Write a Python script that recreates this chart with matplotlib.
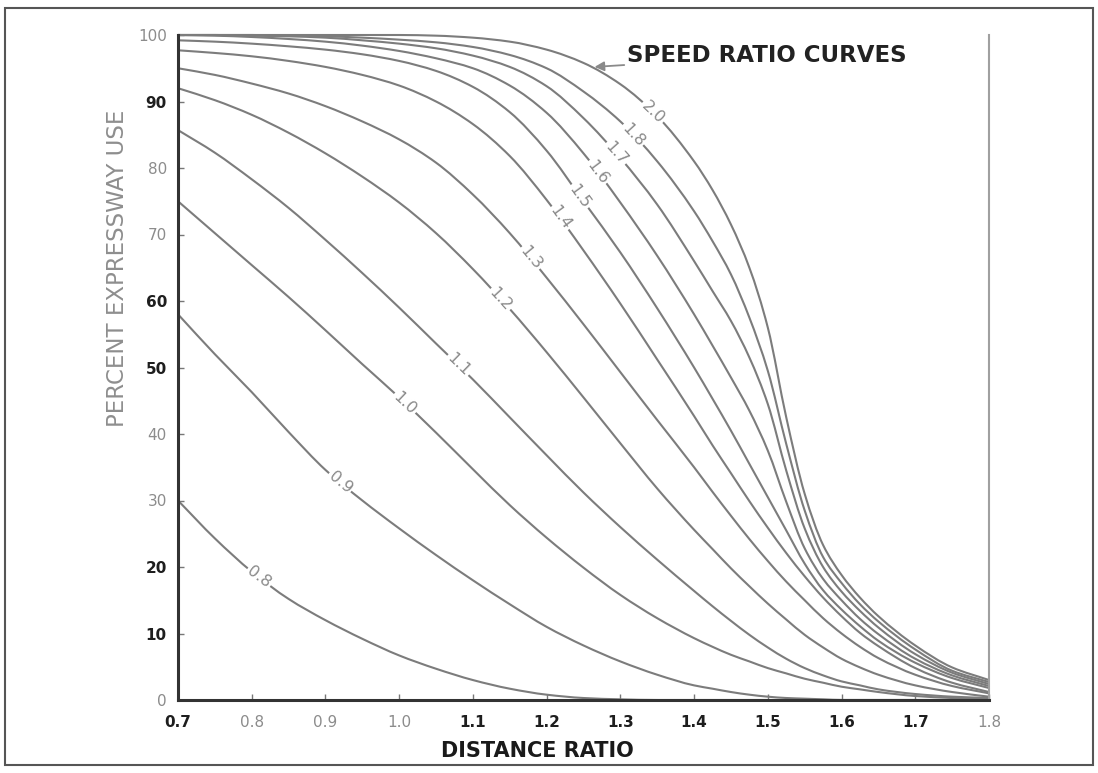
import numpy as np
import matplotlib
matplotlib.use("Agg")
import matplotlib.pyplot as plt
from matplotlib.patches import Rectangle, PathPatch
from matplotlib.path import Path

# ---------------- data ----------------
distance_ratio = [0.70, 0.75, 0.80, 0.85, 0.90, 0.95, 1.00, 1.05, 1.10, 1.15,
                  1.20, 1.25, 1.30, 1.35, 1.40, 1.425, 1.45, 1.475, 1.50, 1.525,
                  1.55, 1.575, 1.60, 1.625, 1.65, 1.70, 1.75, 1.80]

use_0_8 = [30, 24.3, 19.3, 15.2, 12.0, 9.2, 6.7, 4.7, 3.0, 1.7,
           0.8, 0.3, 0.1, 0, 0, 0, 0, 0, 0, 0,
           0, 0, 0, 0, 0, 0, 0, 0]
use_0_9 = [58, 52, 46.3, 40.3, 34.6, 30.0, 25.8, 21.8, 18.0, 14.4,
           11.0, 8.2, 5.8, 3.8, 2.2, 1.7, 1.2, 0.8, 0.5, 0.3,
           0.2, 0.1, 0, 0, 0, 0, 0, 0]
use_1_0 = [75, 70.2, 65.4, 60.6, 55.6, 50.5, 45.5, 40.2, 34.7, 29.3,
           24.4, 19.9, 15.8, 12.3, 9.3, 8.0, 6.8, 5.8, 4.8, 4.0,
           3.2, 2.6, 2.0, 1.6, 1.2, 0.6, 0.3, 0.1]
use_1_1 = [85.7, 82.3, 78.3, 74, 69.2, 64.2, 59, 53.6, 48.2, 42.5,
           36.8, 31.2, 26, 21.1, 16.4, 14.1, 11.9, 9.8, 7.9, 6.2,
           4.8, 3.7, 2.8, 2.2, 1.6, 0.9, 0.5, 0.3]
use_1_2 = [92, 90.2, 88, 85.3, 82.2, 78.7, 74.8, 70.2, 64.8, 58.8,
           52.3, 45.5, 38.6, 31.8, 25.6, 22.7, 19.8, 17.1, 14.5, 12.1,
           9.8, 7.9, 6.2, 4.9, 3.8, 2.2, 1.2, 0.5]
use_1_3 = [95, 94, 92.7, 91.2, 89.3, 87, 84.3, 80.8, 76.0, 70.2,
           63.5, 56.5, 49.3, 42.1, 35, 31.3, 27.7, 24.2, 20.9, 17.8,
           15, 12.3, 10, 8, 6.3, 3.8, 2.1, 1.0]
use_1_4 = [97.7, 97.3, 96.8, 96.1, 95.2, 94, 92.4, 90.0, 86.6, 81.8,
           75.2, 67.6, 59.6, 51.2, 42.7, 38.3, 34.1, 29.9, 25.9, 22.1,
           18.6, 15.4, 12.6, 10.1, 8.1, 4.8, 2.6, 1.2]
use_1_5 = [99.2, 99.0, 98.7, 98.3, 97.8, 97.1, 96.1, 94.6, 92.2, 88.4,
           82.6, 75.0, 67.3, 58.9, 50, 45.3, 40.5, 35.5, 30.5, 25.5,
           20.5, 16.5, 13.6, 11.1, 8.9, 5.6, 3.3, 1.8]
use_1_6 = [100, 99.9, 99.7, 99.4, 99, 98.4, 97.6, 96.5, 95, 92.4,
           88.3, 82.2, 74.8, 66.8, 58, 53.3, 48.5, 43.5, 37.5, 29.8,
           22.8, 18.2, 15, 12.2, 9.9, 6.2, 3.7, 2.1]
use_1_7 = [100, 100, 99.9, 99.8, 99.6, 99.2, 98.7, 98, 96.9, 95.2,
           92.3, 87.5, 81.5, 74.5, 66, 61.5, 57, 51.5, 44.5, 34.5,
           25.8, 20, 16.3, 13.4, 10.9, 6.9, 4.1, 2.4]
use_1_8 = [100, 100, 100, 99.9, 99.8, 99.6, 99.3, 98.9, 98.2, 97,
           95, 91.5, 87, 81, 73.5, 69, 64, 57.5, 49.5, 38.5,
           28.5, 21.5, 17.6, 14.4, 11.8, 7.6, 4.4, 2.7]
use_2_0 = [100, 100, 100, 100, 100, 100, 100, 99.9, 99.6, 99,
           97.8, 95.8, 92.6, 87.8, 81, 76.7, 71.5, 65, 56, 42.5,
           31, 23.3, 18.8, 15.4, 12.6, 8.2, 4.9, 3.0]

speed_labels = ["0.8", "0.9", "1.0", "1.1", "1.2", "1.3",
                "1.4", "1.5", "1.6", "1.7", "1.8", "2.0"]
# distance ratio at which each curve carries its inline label
label_x = [0.81, 0.92, 1.008, 1.08, 1.1375, 1.178,
           1.218, 1.245, 1.269, 1.294, 1.317, 1.344]

x_ticks = [0.7, 0.8, 0.9, 1.0, 1.1, 1.2, 1.3, 1.4, 1.5, 1.6, 1.7, 1.8]
x_ticklabels = ["0.7", "0.8", "0.9", "1.0", "1.1", "1.2", "1.3", "1.4", "1.5", "1.6", "1.7", "1.8"]
y_ticks = [0, 10, 20, 30, 40, 50, 60, 70, 80, 90, 100]
y_ticklabels = ["0", "10", "20", "30", "40", "50", "60", "70", "80", "90", "100"]

curves = [use_0_8, use_0_9, use_1_0, use_1_1, use_1_2, use_1_3,
          use_1_4, use_1_5, use_1_6, use_1_7, use_1_8, use_2_0]


def smooth_path(xs, ys):
    """Smooth (monotone cubic Bezier) path running through the read points."""
    x = np.asarray(xs, float)
    y = np.asarray(ys, float)
    h = np.diff(x)
    d = np.diff(y) / h
    m = np.zeros_like(y)
    m[0], m[-1] = d[0], d[-1]
    for i in range(1, len(x) - 1):
        if d[i - 1] * d[i] <= 0:
            m[i] = 0.0
        else:
            w1 = 2 * h[i] + h[i - 1]
            w2 = h[i] + 2 * h[i - 1]
            m[i] = (w1 + w2) / (w1 / d[i - 1] + w2 / d[i])
    verts = [(x[0], y[0])]
    codes = [Path.MOVETO]
    for i in range(len(x) - 1):
        verts += [(x[i] + h[i] / 3, y[i] + m[i] * h[i] / 3),
                  (x[i + 1] - h[i] / 3, y[i + 1] - m[i + 1] * h[i] / 3),
                  (x[i + 1], y[i + 1])]
        codes += [Path.CURVE4] * 3
    return Path(verts, codes)


# ---------------- figure ----------------
plt.rcParams['font.family'] = ['DejaVu Sans']
W, H = 1098, 773
fig = plt.figure(figsize=(W / 100, H / 100), dpi=100)
fig.patch.set_facecolor('white')
ax = fig.add_axes([178 / W, 1 - 700 / H, 811 / W, 665 / H])
ax.set_xlim(0.7, 1.8)
ax.set_ylim(0, 100)

curve_color = '#7c7c7c'
for ys in curves:
    ax.add_patch(PathPatch(smooth_path(distance_ratio, ys), fill=False,
                           edgecolor=curve_color, lw=1.5, clip_on=False,
                           capstyle='round', zorder=2))

# inline labels
fig.canvas.draw()
for lab, lx, ys in zip(speed_labels, label_x, curves):
    ly = np.interp(lx, distance_ratio, ys)
    dx = 0.012
    p1 = ax.transData.transform((lx - dx, np.interp(lx - dx, distance_ratio, ys)))
    p2 = ax.transData.transform((lx + dx, np.interp(lx + dx, distance_ratio, ys)))
    ang = np.degrees(np.arctan2(p2[1] - p1[1], p2[0] - p1[0]))
    ax.text(lx, ly, lab, rotation=ang, rotation_mode='anchor',
            ha='center', va='center', fontsize=11.5, color='#8a8a8a',
            bbox=dict(facecolor='white', edgecolor='none', pad=1.2), zorder=4)

# spines
for s in ['left', 'bottom']:
    ax.spines[s].set_color('#333333')
    ax.spines[s].set_linewidth(2.2)
ax.spines['top'].set_visible(False)
ax.spines['right'].set_color('#a0a0a0')
ax.spines['right'].set_linewidth(1.5)

ax.set_xticks(x_ticks)
ax.set_xticklabels(x_ticklabels)
ax.set_yticks(y_ticks)
ax.set_yticklabels(y_ticklabels)
ax.tick_params(direction='in', length=4, width=1, colors='#777777', labelsize=11)
ax.tick_params(axis='x', pad=11)
ax.tick_params(axis='y', pad=8)

x_dark = {"0.7", "1.1", "1.2", "1.3", "1.4", "1.5", "1.6", "1.7"}
for t in ax.get_xticklabels():
    if t.get_text() in x_dark:
        t.set_color('#1e1e1e'); t.set_fontweight('bold')
    else:
        t.set_color('#8c8c8c')
y_dark = {"10", "20", "50", "60", "90"}
for t in ax.get_yticklabels():
    if t.get_text() in y_dark:
        t.set_color('#1e1e1e'); t.set_fontweight('bold')
    else:
        t.set_color('#8c8c8c')

# axis titles
fig.text(537 / W, 1 - 751 / H, "DISTANCE RATIO", ha='center', va='center',
         fontsize=15, fontweight='bold', color='#1a1a1a')
fig.text(118 / W, 1 - 268 / H, "PERCENT EXPRESSWAY USE", ha='center', va='center',
         rotation=90, fontsize=16.5, color='#8e8e8e')

# annotation
ax.annotate("SPEED RATIO CURVES", xy=(1.265, 95.2), xytext=(627 / W, 1 - 56 / H),
            textcoords='figure fraction', ha='left', va='center',
            fontsize=16.5, fontweight='bold', color='#222222',
            arrowprops=dict(arrowstyle='-|>', color='#8a8a8a', lw=1.3,
                            mutation_scale=14, shrinkA=0, shrinkB=0),
            annotation_clip=False, zorder=5)

# scan border
fig.add_artist(Rectangle((5 / W, 1 - 765 / H), 1088 / W, 757 / H,
                         transform=fig.transFigure, fill=False,
                         edgecolor='#555555', lw=1.5))

fig.savefig('out.png', dpi=100, facecolor='white')
